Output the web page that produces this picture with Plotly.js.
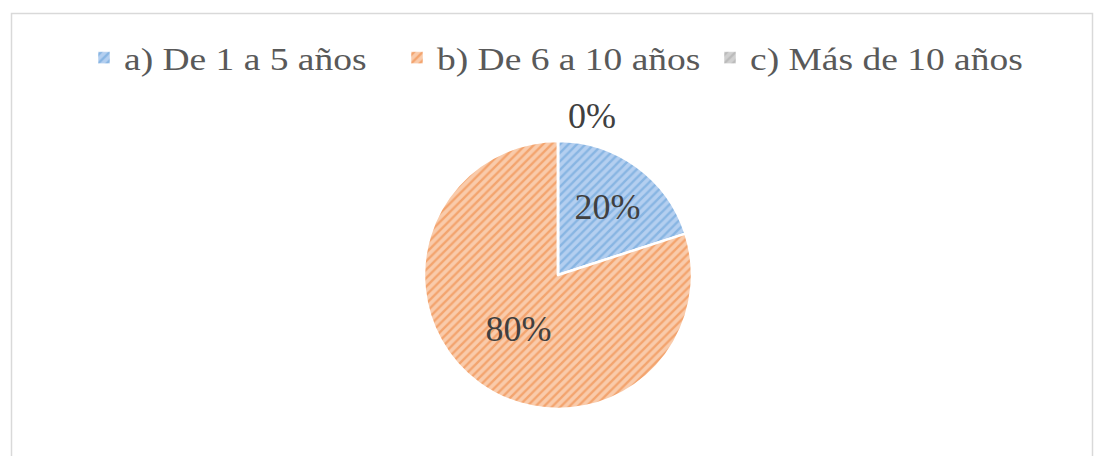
<!DOCTYPE html>
<html>
<head>
<meta charset="utf-8">
<script src="https://cdn.plot.ly/plotly-3.0.1.min.js"></script>
<style>html,body{margin:0;padding:0;background:#fff;}#chart{width:1094px;height:456px;}</style>
</head>
<body>
<div id="chart"></div>
<script>
const categories = ["a) De 1 a 5 años", "b) De 6 a 10 años", "c) Más de 10 años"];
const values = [20, 80, 0];
const percentLabels = ["20%", "80%", "0%"];

const bgColors = ["#b4cff0", "#f9cbab", "#d0d0d0"];
const fgColors = ["#5b9bd5", "#ed7d31", "#a5a5a5"];

const SERIF = "Liberation Serif";
const W = 1094, H = 456;
const cx = 558, cy = 275, r = 134;

const trace = {
  type: "pie",
  labels: categories,
  values: values,
  text: percentLabels.map((t, i) => values[i] > 0 ? t : ""),
  textinfo: "text",
  textposition: "inside",
  insidetextorientation: "horizontal",
  sort: false,
  direction: "clockwise",
  rotation: 0,
  domain: {x: [(cx - 250) / W, (cx + 250) / W], y: [(H - cy - r) / H, (H - cy + r) / H]},
  marker: {
    colors: bgColors,
    line: {color: "#ffffff", width: 2.5},
    pattern: {shape: "/", fgcolor: fgColors, bgcolor: bgColors, size: 6, solidity: 0.4, fillmode: "overlay"}
  },
  textfont: {family: SERIF, size: 36, color: "#404040"},
  automargin: false,
  hoverinfo: "label+percent"
};

const layout = {
  width: W, height: H,
  margin: {l: 0, r: 0, t: 0, b: 0},
  paper_bgcolor: "#ffffff",
  font: {family: SERIF},
  showlegend: true,
  legend: {
    orientation: "h", x: 84 / W, xanchor: "left", y: (H - 58) / H, yanchor: "middle",
    font: {family: SERIF, size: 31, color: "#595959"},
    entrywidth: 268, entrywidthmode: "pixels",
    traceorder: "normal"
  },
  annotations: [{
    xref: "paper", yref: "paper", x: 592 / W, y: (H - 116) / H,
    xanchor: "center", yanchor: "middle",
    text: percentLabels[2], showarrow: false,
    font: {family: SERIF, size: 36, color: "#404040"}
  }],
  shapes: [{
    type: "rect", xref: "paper", yref: "paper",
    x0: 11.5 / W, x1: 1092.5 / W, y0: -0.1, y1: (H - 13.5) / H,
    line: {color: "#d9d9d9", width: 1.5}, fillcolor: "rgba(0,0,0,0)"
  }]
};

Plotly.newPlot("chart", [trace], layout, {displayModeBar: false, staticPlot: true}).then(() => {
  document.querySelectorAll('.legendtext').forEach(t => {
    const x = parseFloat(t.getAttribute('x')) || 0;
    t.setAttribute('transform', `translate(${x},0) scale(1.21,1) translate(${-x},0)`);
  });
  document.querySelectorAll('.legendpoints path').forEach(p => {
    p.style.strokeWidth = '0.5px';
  });
});
</script>
</body>
</html>
